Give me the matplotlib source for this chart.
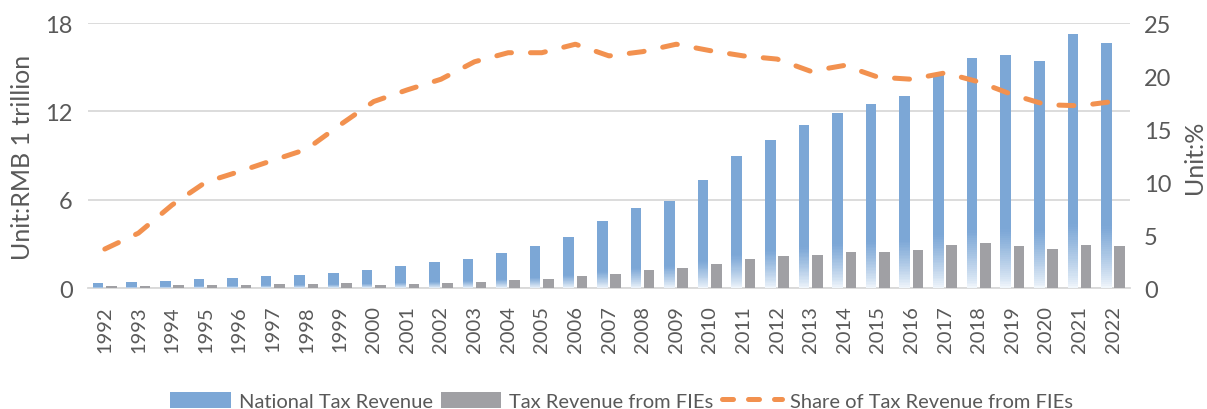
import numpy as np
import matplotlib
matplotlib.use("Agg")
import matplotlib.pyplot as plt
from matplotlib.colors import to_rgb
from matplotlib.lines import Line2D
from matplotlib.patches import Patch

years = [str(y) for y in range(1992, 2023)]
national_tax = [0.33, 0.43, 0.51, 0.60, 0.69, 0.82, 0.93, 1.07, 1.25, 1.53, 1.76, 2.00,
                2.42, 2.88, 3.48, 4.56, 5.42, 5.95, 7.32, 8.97, 10.06, 11.05, 11.92,
                12.49, 13.04, 14.44, 15.64, 15.80, 15.43, 17.27, 16.66]
fie_tax = [0.15, 0.16, 0.19, 0.22, 0.25, 0.28, 0.32, 0.34, 0.22, 0.29, 0.36, 0.45,
           0.54, 0.65, 0.81, 0.99, 1.22, 1.38, 1.65, 1.97, 2.17, 2.26, 2.48, 2.48,
           2.58, 2.92, 3.05, 2.85, 2.67, 2.94, 2.89]
fie_share = [3.7, 5.2, 7.85, 10.0, 11.0, 12.06, 13.1, 15.4, 17.6, 18.7, 19.7, 21.35,
             22.2, 22.2, 23.0, 21.9, 22.3, 23.0, 22.4, 21.9, 21.6, 20.45, 21.0, 19.9,
             19.7, 20.3, 19.45, 18.25, 17.3, 17.2, 17.6]

left_ticks = [0, 6, 12, 18]
right_ticks = [0, 5, 10, 15, 20, 25]

BLUE = "#7CA7D6"
GRAY = "#A0A0A4"
ORANGE = "#F2914F"
TXT = "#595959"
GRID = "#D9D9D9"
FONT = ["Lato", "DejaVu Sans"]
plt.rcParams["font.family"] = FONT

fig = plt.figure(figsize=(12.07, 4.10), dpi=100)
ax = fig.add_axes([88 / 1207, 1 - 289.3 / 410, (1130 - 88) / 1207, (289.3 - 24) / 410])
ax2 = ax.twinx()

x = np.arange(len(years))
nat = np.array(national_tax)
w = 0.315

# blue bars with a gradient fading to white at the bottom quarter
frac = 0.25
ax.bar(x - 0.2, nat * (1 - frac), bottom=nat * frac, width=w, color=BLUE, linewidth=0, zorder=3)
N = 30
b = np.array(to_rgb(BLUE))
white = np.array([0.96, 0.975, 0.99])
for k in range(N):
    t = (k + 0.5) / N
    tt = t ** 0.8
    col = white * (1 - tt) + b * tt
    seg = nat * frac / N
    ax.bar(x - 0.2, seg * 1.3, bottom=seg * k, width=w, color=col, linewidth=0, zorder=3)

ax.bar(x + 0.195, fie_tax, width=w, color=GRAY, linewidth=0, zorder=3)

ax.set_xlim(-0.5, len(years) - 0.5)
ax.set_ylim(0, 18)
ax.set_yticks(left_ticks)
ax.yaxis.grid(True, color=GRID, linewidth=1.3, zorder=0)
ax.set_axisbelow(True)
ax.set_xticks(x)
ax.set_xticklabels(years, rotation=90, fontsize=14.5, color=TXT)
ax.tick_params(axis="x", length=0, pad=12)
ax.tick_params(axis="y", length=0, pad=11, labelsize=17, labelcolor=TXT)
for s in ["top", "right", "left"]:
    ax.spines[s].set_visible(False)
ax.spines["bottom"].set_color(GRID)
ax.spines["bottom"].set_linewidth(1.3)

ax2.plot(x, fie_share, color=ORANGE, linewidth=3.6, dashes=(3.0, 3.8),
         dash_capstyle="round", solid_capstyle="round", zorder=5)
ax2.set_ylim(0, 25)
ax2.set_yticks(right_ticks)
ax2.tick_params(axis="y", length=0, pad=10, labelsize=17, labelcolor=TXT)
for s in ["top", "right", "left", "bottom"]:
    ax2.spines[s].set_visible(False)
ax2.set_zorder(ax.get_zorder() + 1)
ax2.patch.set_visible(False)

fig.text(23 / 1207, 1 - 157 / 410, "Unit:RMB 1 trillion", rotation=90, ha="center",
         va="center", fontsize=18, color=TXT)
fig.text(1195 / 1207, 1 - 157 / 410, "Unit:%", rotation=90, ha="center",
         va="center", fontsize=18, color=TXT)

handles = [Patch(facecolor=BLUE, edgecolor="none"),
           Patch(facecolor=GRAY, edgecolor="none"),
           Line2D([0], [0], color=ORANGE, linewidth=3.6, dashes=(2.2, 3.0),
                  dash_capstyle="round")]
labels = ["National Tax Revenue", "Tax Revenue from FIEs", "Share of Tax Revenue from FIEs"]
fig.legend(handles, labels, loc="center", bbox_to_anchor=(0.515, 0.02), ncol=3,
           frameon=False, fontsize=14.5, handlelength=3.0, handleheight=0.9,
           columnspacing=0.4, handletextpad=0.4, labelcolor=TXT)

fig.savefig("out.png", dpi=100)
